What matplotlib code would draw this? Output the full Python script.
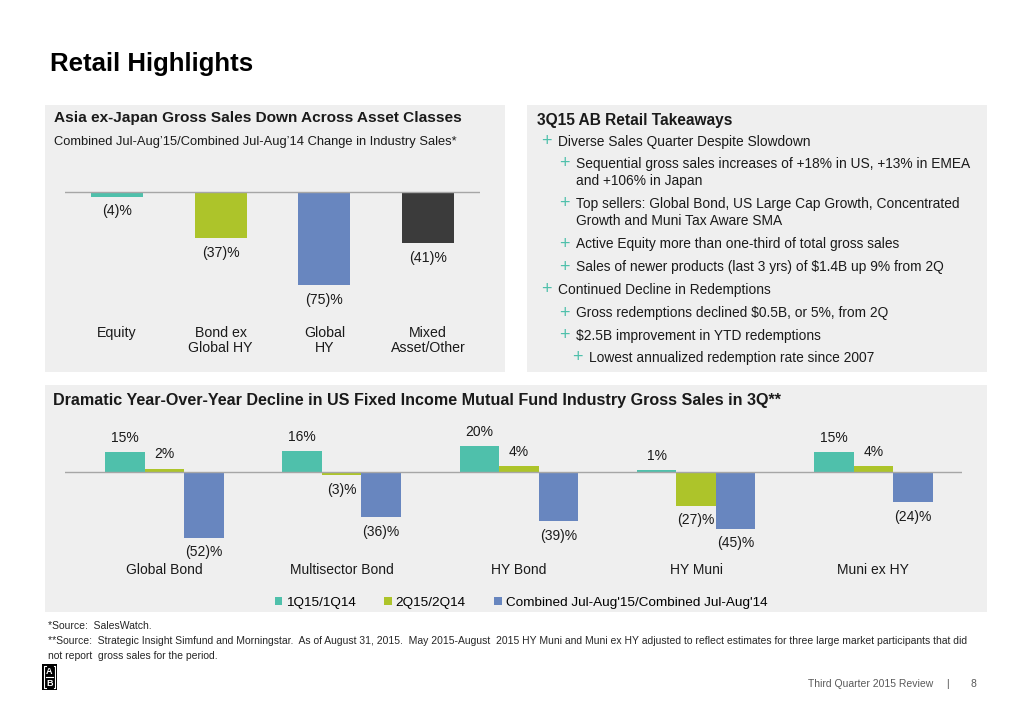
import matplotlib
matplotlib.use("Agg")
import matplotlib.pyplot as plt
from matplotlib.patches import Rectangle, Patch
from matplotlib.lines import Line2D

# ================================
# DATA
# ================================

asia_categories = ["Equity", "Bond ex\nGlobal HY", "Global\nHY", "Mixed\nAsset/Other"]
asia_change = [-4, -37, -75, -41]

us_categories = ["Global Bond", "Multisector Bond", "HY Bond", "HY Muni", "Muni ex HY"]
q1_change = [15, 16, 20, 1, 15]
q2_change = [2, -3, 4, -27, 4]
julaug_change = [-52, -36, -39, -45, -24]
series_names = ["1Q15/1Q14", "2Q15/2Q14", "Combined Jul-Aug'15/Combined Jul-Aug'14"]

takeaways = [
    (1, ["Diverse Sales Quarter Despite Slowdown"]),
    (2, ["Sequential gross sales increases of +18% in US, +13% in EMEA", "and +106% in Japan"]),
    (2, ["Top sellers: Global Bond, US Large Cap Growth, Concentrated", "Growth and Muni Tax Aware SMA"]),
    (2, ["Active Equity more than one-third of total gross sales"]),
    (2, ["Sales of newer products (last 3 yrs) of $1.4B up 9% from 2Q"]),
    (1, ["Continued Decline in Redemptions"]),
    (2, ["Gross redemptions declined $0.5B, or 5%, from 2Q"]),
    (2, ["$2.5B improvement in YTD redemptions"]),
    (3, ["Lowest annualized redemption rate since 2007"]),
]

# ================================
# STYLE
# ================================

W, H = 1018, 705
TEAL = "#4fc0ab"
LIME = "#adc42a"
BLUE = "#6886bf"
DARK = "#3b3b3b"
PANEL = "#efefef"
AXIS = "#a6a6a6"
TXT = "#1a1a1a"
NARROW = ["Liberation Sans Narrow", "Liberation Sans"]

plt.rcParams["font.family"] = "Liberation Sans"


def fx(x):
    return x / W


def fy(y):
    return 1 - y / H


def box(x0, y0, x1, y1):
    return [fx(x0), fy(y1), (x1 - x0) / W, (y1 - y0) / H]


def pct(v):
    return f"({abs(v)})%" if v < 0 else f"{v}%"


fig = plt.figure(figsize=(W / 100, H / 100), dpi=100)
fig.patch.set_facecolor("white")

# panels
for x0, y0, x1, y1 in [(45, 105, 505, 372), (527, 105, 987, 372), (45, 385, 987, 612)]:
    fig.add_artist(Rectangle((fx(x0), fy(y1)), (x1 - x0) / W, (y1 - y0) / H,
                             transform=fig.transFigure, facecolor=PANEL, edgecolor="none", zorder=0))

fig.text(fx(50), fy(64), "Retail Highlights", fontsize=18.5, fontweight="bold", va="center", color="black")

# ================================
# LEFT CHART
# ================================

fig.text(fx(54), fy(118), "Asia ex-Japan Gross Sales Down Across Asset Classes",
         fontsize=11.1, fontweight="bold", va="center", color=TXT)
fig.text(fx(54), fy(142), "Combined Jul-Aug\u201915/Combined Jul-Aug\u201914 Change in Industry Sales*",
         fontsize=9.3, va="center", color=TXT)

ax1 = fig.add_axes(box(65, 165, 480, 318))
ax1.set_facecolor("none")
base = 191.7
scale = 1.25
ax1.set_ylim(-(318 - base) / scale, (base - 165) / scale)
ax1.set_xlim(-0.5, 3.5)
xs = range(len(asia_categories))
ax1.bar(xs, asia_change, width=0.5, color=[TEAL, LIME, BLUE, DARK], zorder=2)
ax1.axhline(0, color=AXIS, lw=1, zorder=3)
for x, v in zip(xs, asia_change):
    ax1.annotate(pct(v), (x, v), xytext=(0, -10.6), textcoords="offset points",
                 ha="center", va="center", fontsize=10.2, color=TXT)
ax1.set_xticks(list(xs))
ax1.set_xticklabels(asia_categories, fontsize=10.2, color=TXT, linespacing=1.1)
ax1.tick_params(axis="x", length=0, pad=5.5)
ax1.set_yticks([])
for s in ax1.spines.values():
    s.set_visible(False)

# ================================
# RIGHT TEXT PANEL
# ================================

fig.text(fx(537), fy(120), "3Q15 AB Retail Takeaways", fontsize=11.2, fontweight="bold",
         va="center", color=TXT)
line_y = [142, 164, 204, 244, 267, 290, 313, 336, 358]
indent = {1: (546, 558), 2: (564, 576), 3: (577, 589)}
for (lvl, lines), y in zip(takeaways, line_y):
    px, tx = indent[lvl]
    fig.text(fx(px), fy(y), "+", fontsize=13, color=TEAL, ha="center", va="center")
    for i, ln in enumerate(lines):
        fig.text(fx(tx), fy(y + 17 * i), ln, fontsize=9.9, color=TXT, va="center")

# ================================
# BOTTOM CHART
# ================================

fig.text(fx(53), fy(400), "Dramatic Year-Over-Year Decline in US Fixed Income Mutual Fund Industry Gross Sales in 3Q**",
         fontsize=11.6, fontweight="bold", va="center", color=TXT, family=NARROW)

ax2 = fig.add_axes(box(65, 425, 962, 555))
ax2.set_facecolor("none")
base2 = 471.5
scale2 = 1.27
ax2.set_ylim(-(555 - base2) / scale2, (base2 - 425) / scale2)
ax2.set_xlim(-0.56, 4.5)
bw = 0.223
gx = range(len(us_categories))
for off, vals, col in [(-bw, q1_change, TEAL), (0, q2_change, LIME), (bw, julaug_change, BLUE)]:
    pos = [g + off for g in gx]
    ax2.bar(pos, vals, width=bw, color=col, zorder=2)
    for x, v in zip(pos, vals):
        dy = 10.5 if v > 0 else -10.5
        ax2.annotate(pct(v), (x, v), xytext=(0, dy), textcoords="offset points",
                     ha="center", va="center", fontsize=10, color=TXT, family=NARROW)
ax2.axhline(0, color=AXIS, lw=1, zorder=3)
ax2.set_xticks(list(gx))
ax2.set_xticklabels(us_categories, fontsize=10, color=TXT, family=NARROW)
ax2.tick_params(axis="x", length=0, pad=6)
ax2.set_yticks([])
for s in ax2.spines.values():
    s.set_visible(False)

handles = [Patch(facecolor=c, edgecolor="none") for c in (TEAL, LIME, BLUE)]
fig.legend(handles, series_names, loc="center", bbox_to_anchor=(fx(521), fy(603)), ncol=3,
           frameon=False, handlelength=0.55, handleheight=0.55, handletextpad=0.3,
           columnspacing=2.1, prop={"family": NARROW, "size": 9.7})

# ================================
# FOOTNOTES / FOOTER
# ================================

notes = [
    (626, "*Source:  SalesWatch."),
    (641, "**Source:  Strategic Insight Simfund and Morningstar.  As of August 31, 2015.  May 2015-August  2015 HY Muni and Muni ex HY adjusted to reflect estimates for three large market participants that did"),
    (656, "not report  gross sales for the period."),
]
for y, t in notes:
    fig.text(fx(48), fy(y), t, fontsize=7.5, va="center", color="#262626", family=NARROW)

fig.text(fx(933), fy(684), "Third Quarter 2015 Review", fontsize=7.5, ha="right", va="center",
         color="#595959", family=NARROW)
fig.text(fx(947), fy(684), "|", fontsize=7.5, ha="center", va="center", color="#595959")
fig.text(fx(973), fy(684), "8", fontsize=7.5, ha="center", va="center", color="#595959", family=NARROW)

# AB logo
fig.add_artist(Rectangle((fx(42), fy(690)), 15 / W, 26 / H, transform=fig.transFigure,
                         facecolor="black", edgecolor="none"))
fig.text(fx(49.5), fy(671), "A", fontsize=6.5, fontweight="bold", color="white", ha="center", va="center")
fig.text(fx(49.5), fy(683), "B", fontsize=6.5, fontweight="bold", color="white", ha="center", va="center")
fig.add_artist(Line2D([fx(46), fx(53)], [fy(677), fy(677)], transform=fig.transFigure, color="white", lw=0.8))
for xa, xb in [(44, 45.5), (55, 53.5)]:
    fig.add_artist(Line2D([fx(xb), fx(xa), fx(xa), fx(xb)], [fy(666), fy(666), fy(688), fy(688)],
                          transform=fig.transFigure, color="white", lw=0.8))

fig.savefig("out.png", dpi=100)
